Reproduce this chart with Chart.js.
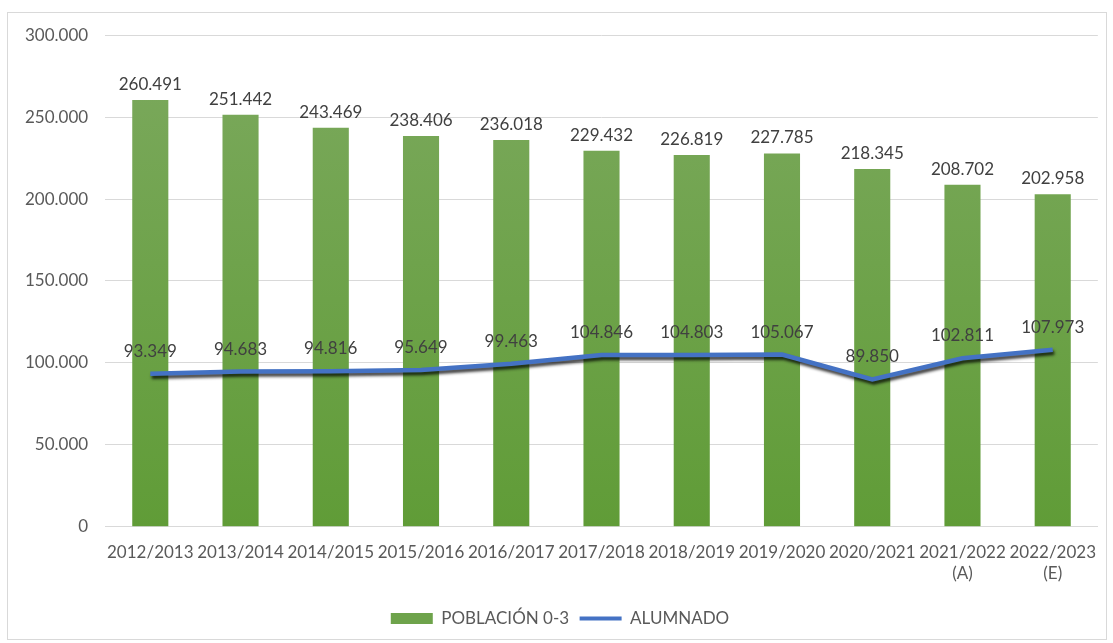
<!DOCTYPE html>
<html>
<head>
<meta charset="utf-8">
<script src="https://cdn.jsdelivr.net/npm/chart.js@4.4.1/dist/chart.umd.min.js"></script>
<style>
  html, body { margin: 0; padding: 0; background: #fff; }
  #marco {
    position: absolute; left: 7px; top: 12px;
    width: 1100px; height: 628px;
    border: 1px solid #d9d9d9; box-sizing: border-box;
  }
  #grafica { position: absolute; left: 8px; top: 8px; display: block; }
</style>
</head>
<body>
<div id="marco"></div>
<canvas id="grafica" width="1104" height="632"></canvas>
<script>
// datos
var cursos = ['2012/2013', '2013/2014', '2014/2015', '2015/2016', '2016/2017', '2017/2018',
              '2018/2019', '2019/2020', '2020/2021', ['2021/2022', '(A)'], ['2022/2023', '(E)']];
var poblacion = [260491, 251442, 243469, 238406, 236018, 229432, 226819, 227785, 218345, 208702, 202958];
var alumnado = [93349, 94683, 94816, 95649, 99463, 104846, 104803, 105067, 89850, 102811, 107973];
var ticksY = [0, 50000, 100000, 150000, 200000, 250000, 300000];

var fuente = 'Lato, "Open Sans", sans-serif';

function miles(v) {
    // separador de miles con punto
    return String(Math.round(v)).replace(/\B(?=(\d{3})+(?!\d))/g, '.');
}

function degradado(context) {
    var chart = context.chart;
    var area = chart.chartArea;
    if (!area) return '#6a9f45';
    var g = chart.ctx.createLinearGradient(0, area.top, 0, area.bottom);
    g.addColorStop(0, 'rgb(124,169,94)');
    g.addColorStop(1, 'rgb(96,156,55)');
    return g;
}

// sombra de la linea
var sombra = {
    id: 'sombra',
    beforeDatasetDraw: function(chart, args) {
        if (args.index !== 1) return;
        var ctx = chart.ctx;
        ctx.save();
        ctx.shadowColor = 'rgba(0,0,0,0.75)';
        ctx.shadowBlur = 3;
        ctx.shadowOffsetX = 1.5;
        ctx.shadowOffsetY = 3;
    },
    afterDatasetDraw: function(chart, args) {
        if (args.index !== 1) return;
        chart.ctx.restore();
    }
};

// etiquetas de valores
var etiquetas = {
    id: 'etiquetas',
    afterDatasetsDraw: function(chart) {
        var ctx = chart.ctx;
        ctx.save();
        ctx.font = '17px ' + fuente;
        ctx.fillStyle = '#404040';
        ctx.textAlign = 'center';
        ctx.textBaseline = 'bottom';
        chart.getDatasetMeta(0).data.forEach(function(el, i) {
            ctx.fillText(miles(poblacion[i]), el.x, el.y - 7);
        });
        chart.getDatasetMeta(1).data.forEach(function(el, i) {
            ctx.fillText(miles(alumnado[i]), el.x, el.y - 14);
        });
        ctx.restore();
    }
};

var barras = {
    type: 'bar',
    label: 'POBLACIÓN 0-3',
    data: poblacion,
    backgroundColor: degradado,
    borderWidth: 0,
    categoryPercentage: 0.8,
    barPercentage: 0.5,
    order: 1
};

var linea = {
    type: 'line',
    label: 'ALUMNADO',
    data: alumnado,
    borderColor: '#4472c4',
    backgroundColor: '#4472c4',
    borderWidth: 4.5,
    pointRadius: 0,
    tension: 0,
    order: 0
};

var config = {
    type: 'bar',
    data: { labels: cursos, datasets: [barras, linea] },
    options: {
        responsive: false,
        animation: false,
        layout: { padding: { top: 9, right: 0, left: 0, bottom: 3 } },
        plugins: {
            legend: {
                position: 'bottom',
                labels: {
                    font: { family: fuente, size: 17 },
                    color: '#595959',
                    usePointStyle: true,
                    pointStyleWidth: 42,
                    boxHeight: 11,
                    padding: 10.5,
                    generateLabels: function(chart) {
                        return [
                            { text: 'POBLACIÓN 0-3', fillStyle: 'rgb(110,163,75)', strokeStyle: 'rgb(110,163,75)',
                              lineWidth: 0, pointStyle: 'rect', datasetIndex: 0, fontColor: '#595959' },
                            { text: 'ALUMNADO', fillStyle: '#4472c4', strokeStyle: '#4472c4',
                              lineWidth: 4, pointStyle: 'line', datasetIndex: 1, fontColor: '#595959' }
                        ];
                    }
                }
            },
            tooltip: { enabled: false }
        },
        scales: {
            x: {
                grid: { display: false, drawTicks: false },
                border: { color: '#d9d9d9', width: 1 },
                ticks: {
                    font: { family: fuente, size: 17 },
                    color: '#595959',
                    maxRotation: 0,
                    autoSkip: false,
                    padding: 16
                }
            },
            y: {
                min: 0,
                max: 300000,
                afterBuildTicks: function(axis) {
                    axis.ticks = ticksY.map(function(v) { return { value: v }; });
                },
                grid: { color: '#d9d9d9', drawTicks: false },
                border: { display: false },
                ticks: {
                    font: { family: fuente, size: 17 },
                    color: '#595959',
                    padding: 17,
                    callback: function(v) { return miles(v); }
                }
            }
        }
    },
    plugins: [sombra, etiquetas]
};

var grafica = new Chart(document.getElementById('grafica'), config);
</script>
</body>
</html>
